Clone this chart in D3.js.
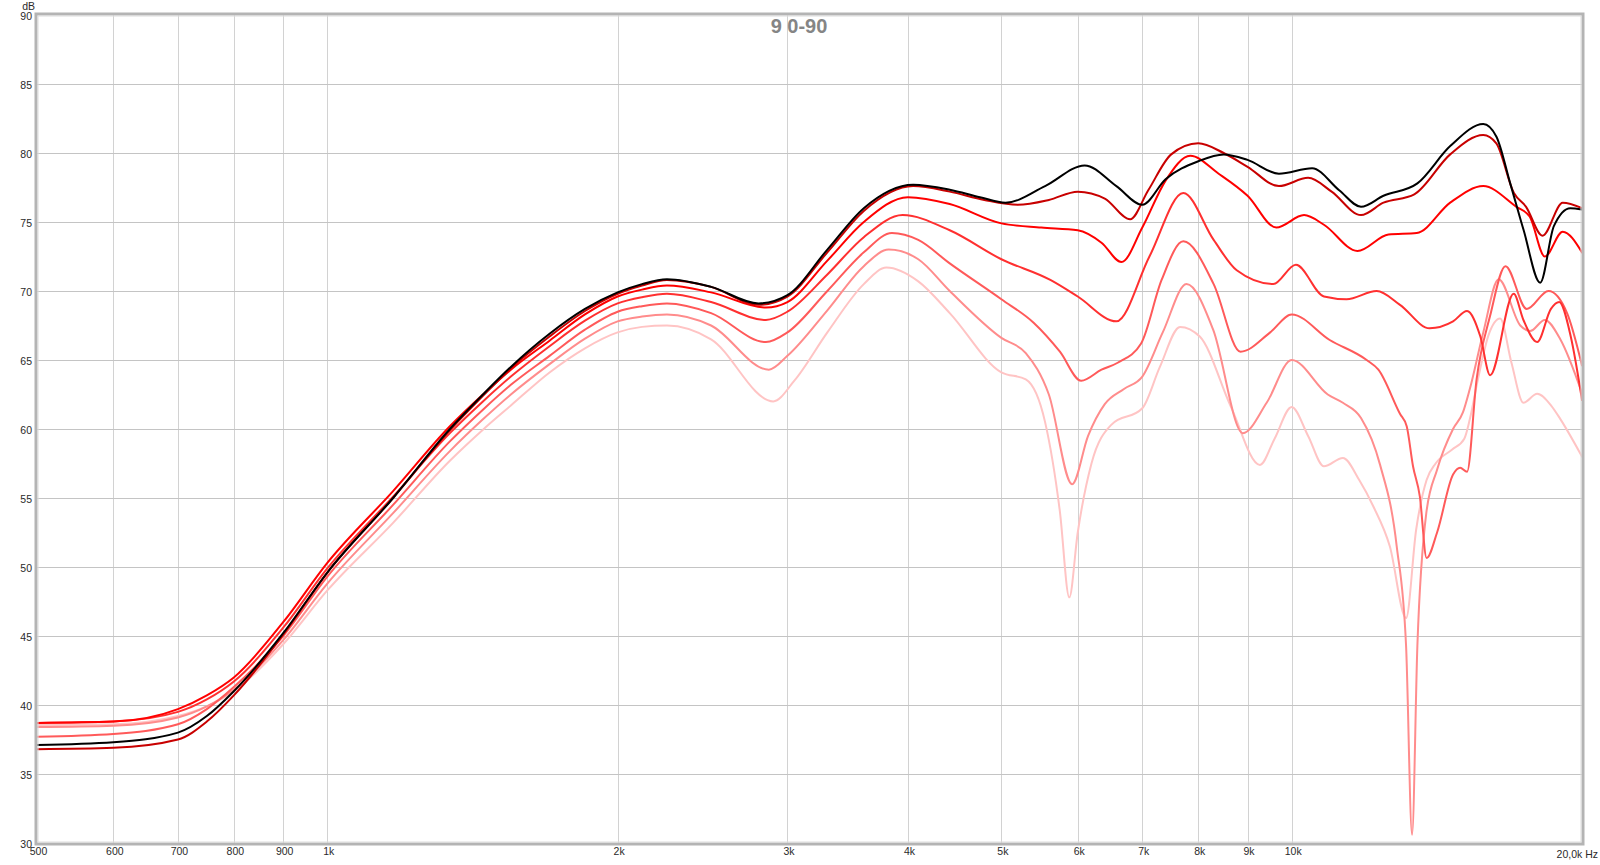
<!DOCTYPE html>
<html>
<head>
<meta charset="utf-8">
<script src="https://cdn.jsdelivr.net/npm/d3@7/dist/d3.min.js"></script>
<style>
  html, body { margin: 0; padding: 0; background: #fff; }
  svg { display: block; }
  text { font-family: "Liberation Sans", Arial, sans-serif; }
</style>
</head>
<body>
<svg id="chart" width="1600" height="865"></svg>
<script>
// ---- data ----
const title = "9 0-90";
const xTickFreqs = [500, 600, 700, 800, 900, 1000, 2000, 3000, 4000, 5000, 6000, 7000, 8000, 9000, 10000];
const xTickLabels = ["500", "600", "700", "800", "900", "1k", "2k", "3k", "4k", "5k", "6k", "7k", "8k", "9k", "10k"];
const xEndLabel = "20,0k Hz";
const yTicks = [30, 35, 40, 45, 50, 55, 60, 65, 70, 75, 80, 85, 90];
const yUnit = "dB";
const seriesNames = ["0°", "15°", "30°", "45°", "60°", "75°", "90°"];
const seriesColors = ["#000000", "#c80000", "#ff0000", "#ff3030", "#ff5a5a", "#ff8c8c", "#ffc4c4"];

const s0 = [[500,37.1],[600,37.3],[700,38.0],[750,39.2],[800,41.0],[900,45.2],[1000,49.6],[1170,55.0],[1340,60.0],[1450,62.5],[1550,64.5],[1700,66.9],[1850,68.7],[2000,69.9],[2120,70.5],[2250,70.85],[2500,70.3],[2800,69.1],[3000,69.7],[3300,73.0],[3600,76.0],[4050,77.7],[4420,77.34],[4750,76.8],[5050,76.4],[5550,77.6],[6100,79.1],[6580,77.6],[7000,76.25],[7400,78.1],[8000,79.4],[8500,79.9],[9000,79.5],[9700,78.5],[10500,78.9],[11200,77.3],[11800,76.1],[12450,76.9],[13500,77.8],[14600,80.5],[15800,82.1],[16300,81.2],[16850,77.8],[17400,74.4],[18100,70.6],[18700,74.7],[19450,76.0],[20000,75.9]];
const s15 = [[500,36.8],[600,36.9],[700,37.5],[750,38.8],[800,40.7],[900,45.1],[1000,49.6],[1170,55.0],[1340,59.9],[1450,62.4],[1550,64.4],[1700,66.7],[1850,68.55],[2000,69.8],[2120,70.4],[2250,70.8],[2500,70.3],[2800,69.0],[3000,69.6],[3300,72.8],[3600,75.8],[4050,77.6],[4420,77.2],[4800,76.6],[5200,76.25],[5600,76.6],[6000,77.2],[6400,76.7],[6800,75.2],[7100,77.3],[7500,79.9],[8000,80.7],[8500,80.0],[9000,79.0],[9700,77.6],[10400,78.2],[11000,77.2],[11800,75.5],[12450,76.4],[13400,77.0],[14600,79.9],[15800,81.3],[16300,80.7],[17000,77.1],[17500,76.1],[18200,74.0],[19100,76.4],[20000,76.0]];
const s30 = [[500,38.7],[600,38.8],[700,39.7],[750,40.7],[800,42.0],[900,46.0],[1000,50.3],[1170,55.5],[1340,60.2],[1450,62.5],[1550,64.3],[1700,66.4],[1850,68.3],[2000,69.6],[2120,70.1],[2250,70.4],[2500,69.9],[2850,68.8],[3000,69.2],[3300,72.2],[3600,75.0],[4000,76.8],[4420,76.3],[5000,74.9],[5500,74.6],[6000,74.4],[6350,73.5],[6660,72.1],[7000,74.6],[7400,78.0],[7850,79.8],[8400,78.5],[9000,76.9],[9640,74.6],[10300,75.5],[10800,74.8],[11700,72.9],[12600,74.1],[13480,74.2],[14600,76.4],[15800,77.6],[17100,76.1],[17650,75.4],[18300,72.5],[19100,74.3],[20000,72.8]];
const s45 = [[500,38.7],[600,38.8],[700,39.5],[750,40.4],[800,41.7],[900,45.6],[1000,49.9],[1170,55.1],[1340,59.7],[1450,62.0],[1550,63.8],[1700,66.0],[1850,67.85],[2000,69.1],[2120,69.55],[2250,69.8],[2500,69.2],[2850,67.9],[3000,68.5],[3300,71.2],[3600,73.9],[3950,75.5],[4420,74.4],[5000,72.3],[5620,70.8],[6000,69.6],[6580,67.8],[7120,72.5],[7720,77.1],[8300,73.7],[8770,71.5],[9570,70.5],[10100,71.9],[10800,69.6],[11400,69.4],[12250,70.0],[12950,69.0],[13900,67.3],[14700,67.8],[15200,68.55],[15690,66.7],[16060,63.9],[16990,69.8],[17390,67.9],[17970,66.3],[18570,68.7],[18940,69.2],[19470,66.7],[20000,62.1]];
const s60 = [[500,37.7],[600,37.9],[700,38.6],[750,39.7],[800,41.3],[900,45.0],[1000,49.3],[1170,54.5],[1340,59.1],[1450,61.4],[1550,63.2],[1700,65.3],[1850,67.2],[2000,68.5],[2120,68.9],[2250,69.1],[2500,68.4],[2850,66.3],[3000,67.0],[3300,70.0],[3600,72.8],[3850,74.2],[4100,73.7],[4420,72.0],[5000,69.4],[5400,67.7],[5750,65.6],[6050,63.5],[6350,64.3],[6600,64.8],[6980,66.2],[7330,70.8],[7720,73.6],[8300,70.5],[8850,65.6],[9500,67.0],[10000,68.3],[10950,66.45],[11960,65.0],[12300,64.3],[12950,61.1],[13160,60.2],[13360,57.3],[13580,55.1],[13800,50.65],[14150,52.5],[14700,56.7],[14950,57.2],[15200,56.9],[15550,63.6],[16060,68.2],[16660,71.8],[17530,68.7],[18460,70.0],[19300,68.4],[20000,64.6]];
const s75 = [[500,38.4],[600,38.5],[700,39.1],[750,39.9],[800,41.1],[900,44.7],[1000,48.8],[1170,53.9],[1340,58.4],[1450,60.7],[1550,62.5],[1700,64.7],[1850,66.55],[2000,67.8],[2120,68.15],[2250,68.3],[2500,67.5],[2870,64.3],[3000,65.3],[3300,68.6],[3600,71.8],[3820,73.0],[4100,72.3],[4420,70.0],[5000,66.6],[5300,65.5],[5600,62.5],[5920,56.0],[6150,59.5],[6400,61.8],[6700,62.9],[7000,63.8],[7350,67.0],[7780,70.5],[8290,67.2],[8900,59.7],[9420,61.9],[10000,65.0],[10900,62.5],[11300,61.9],[11800,60.8],[12350,57.4],[12850,51.5],[13140,44.3],[13330,30.6],[13500,44.3],[13790,53.9],[14150,57.05],[14700,60.0],[15050,61.2],[15300,62.9],[15800,67.0],[16390,70.85],[17260,67.5],[17670,67.1],[18300,67.9],[18990,66.5],[20000,62.6]];
const s90 = [[500,38.55],[600,38.6],[700,39.2],[750,39.9],[800,41.0],[900,44.4],[1000,48.3],[1170,53.2],[1340,57.7],[1450,59.95],[1550,61.7],[1700,64.1],[1850,65.85],[2000,67.0],[2120,67.4],[2250,67.5],[2500,66.5],[2900,62.0],[3050,63.5],[3300,67.0],[3600,70.5],[3800,71.7],[4100,70.7],[4420,68.4],[5000,64.1],[5300,63.6],[5550,60.5],[5750,54.0],[5880,47.8],[6000,52.5],[6200,57.5],[6500,60.3],[7000,61.5],[7300,64.5],[7660,67.4],[8030,66.7],[8650,61.6],[9270,57.4],[9600,59.3],[10000,61.6],[10400,59.5],[10800,57.3],[11300,57.9],[11750,56.3],[12150,54.4],[12640,51.5],[13140,46.3],[13460,52.7],[13800,56.3],[14100,57.5],[14660,58.5],[15100,59.3],[15300,60.7],[15600,63.6],[16000,66.8],[16450,68.0],[16900,64.8],[17390,61.9],[17970,62.55],[18580,61.7],[19000,60.7],[20000,58.0]];
const seriesData = [s0, s15, s30, s45, s60, s75, s90];

// ---- layout ----
const W = 1600, H = 865;
const plot = { left: 37, right: 1582, top: 15, bottom: 843 };

const svg = d3.select("#chart");
const x = d3.scaleLog().domain([500, 20000]).range([plot.left, plot.right]);
const y = d3.scaleLinear().domain([30, 90]).range([plot.bottom, plot.top]);

svg.append("rect").attr("x", 0).attr("y", 0).attr("width", W).attr("height", H).attr("fill", "#fff");

// grid
const grid = svg.append("g");
grid.selectAll("line.v").data(xTickFreqs.filter(f => f > 500)).enter().append("line")
  .attr("x1", d => Math.round(x(d)) + 0.5).attr("x2", d => Math.round(x(d)) + 0.5)
  .attr("y1", plot.top).attr("y2", plot.bottom)
  .attr("stroke", "#d2d2d2").attr("stroke-width", 1);
grid.selectAll("line.h").data(yTicks.filter(d => d > 30 && d < 90)).enter().append("line")
  .attr("x1", plot.left).attr("x2", plot.right)
  .attr("y1", d => Math.round(y(d)) + 0.5).attr("y2", d => Math.round(y(d)) + 0.5)
  .attr("stroke", "#c4c4c4").attr("stroke-width", 1);

// title
svg.append("text").attr("x", 799).attr("y", 33).attr("text-anchor", "middle")
  .attr("font-size", 20).attr("font-weight", "bold").attr("fill", "#858585").text(title);

// curves
svg.append("clipPath").attr("id", "clip").append("rect")
  .attr("x", plot.left).attr("y", plot.top).attr("width", plot.right - plot.left).attr("height", plot.bottom - plot.top);
const line = d3.line().x(d => x(d[0])).y(d => y(d[1])).curve(d3.curveMonotoneX);
const cg = svg.append("g").attr("clip-path", "url(#clip)");
const order = [6, 5, 4, 3, 2, 1, 0];
order.forEach(i => {
  cg.append("path").datum(seriesData[i])
    .attr("d", line).attr("fill", "none")
    .attr("stroke", seriesColors[i]).attr("stroke-width", 2)
    .attr("stroke-linejoin", "round").attr("stroke-linecap", "round")
    .attr("data-name", seriesNames[i]);
});

// frame
svg.append("rect").attr("x", plot.left - 1).attr("y", plot.top - 1)
  .attr("width", plot.right - plot.left + 2).attr("height", plot.bottom - plot.top + 2)
  .attr("fill", "none").attr("stroke", "#b4b4b4").attr("stroke-width", 3);
svg.append("rect").attr("x", plot.left + 1).attr("y", plot.top + 1)
  .attr("width", plot.right - plot.left - 2).attr("height", plot.bottom - plot.top - 2)
  .attr("fill", "none").attr("stroke", "#dcdcdc").attr("stroke-width", 1);

// axes labels
const yAxis = d3.axisLeft(y).tickValues(yTicks).tickSize(0).tickPadding(4);
const yg = svg.append("g").attr("transform", `translate(${plot.left - 1},1)`).call(yAxis);
yg.select(".domain").remove();
yg.selectAll("text").attr("font-size", 10.5).attr("fill", "#2a2a2a")
  .attr("font-family", "Liberation Sans, Arial, sans-serif");

const xAxis = d3.axisBottom(x).tickValues(xTickFreqs).tickFormat((d, i) => xTickLabels[i]).tickSize(0).tickPadding(5);
const xg = svg.append("g").attr("transform", `translate(1,${plot.bottom})`).call(xAxis);
xg.select(".domain").remove();
xg.selectAll("text").attr("font-size", 10.5).attr("fill", "#2a2a2a")
  .attr("font-family", "Liberation Sans, Arial, sans-serif");

svg.append("text").attr("x", 1598).attr("y", 858).attr("text-anchor", "end")
  .attr("font-size", 10.5).attr("fill", "#2a2a2a").text(xEndLabel);
svg.append("text").attr("x", 35).attr("y", 9.5).attr("text-anchor", "end")
  .attr("font-size", 10.5).attr("fill", "#2a2a2a").text(yUnit);
</script>
</body>
</html>
